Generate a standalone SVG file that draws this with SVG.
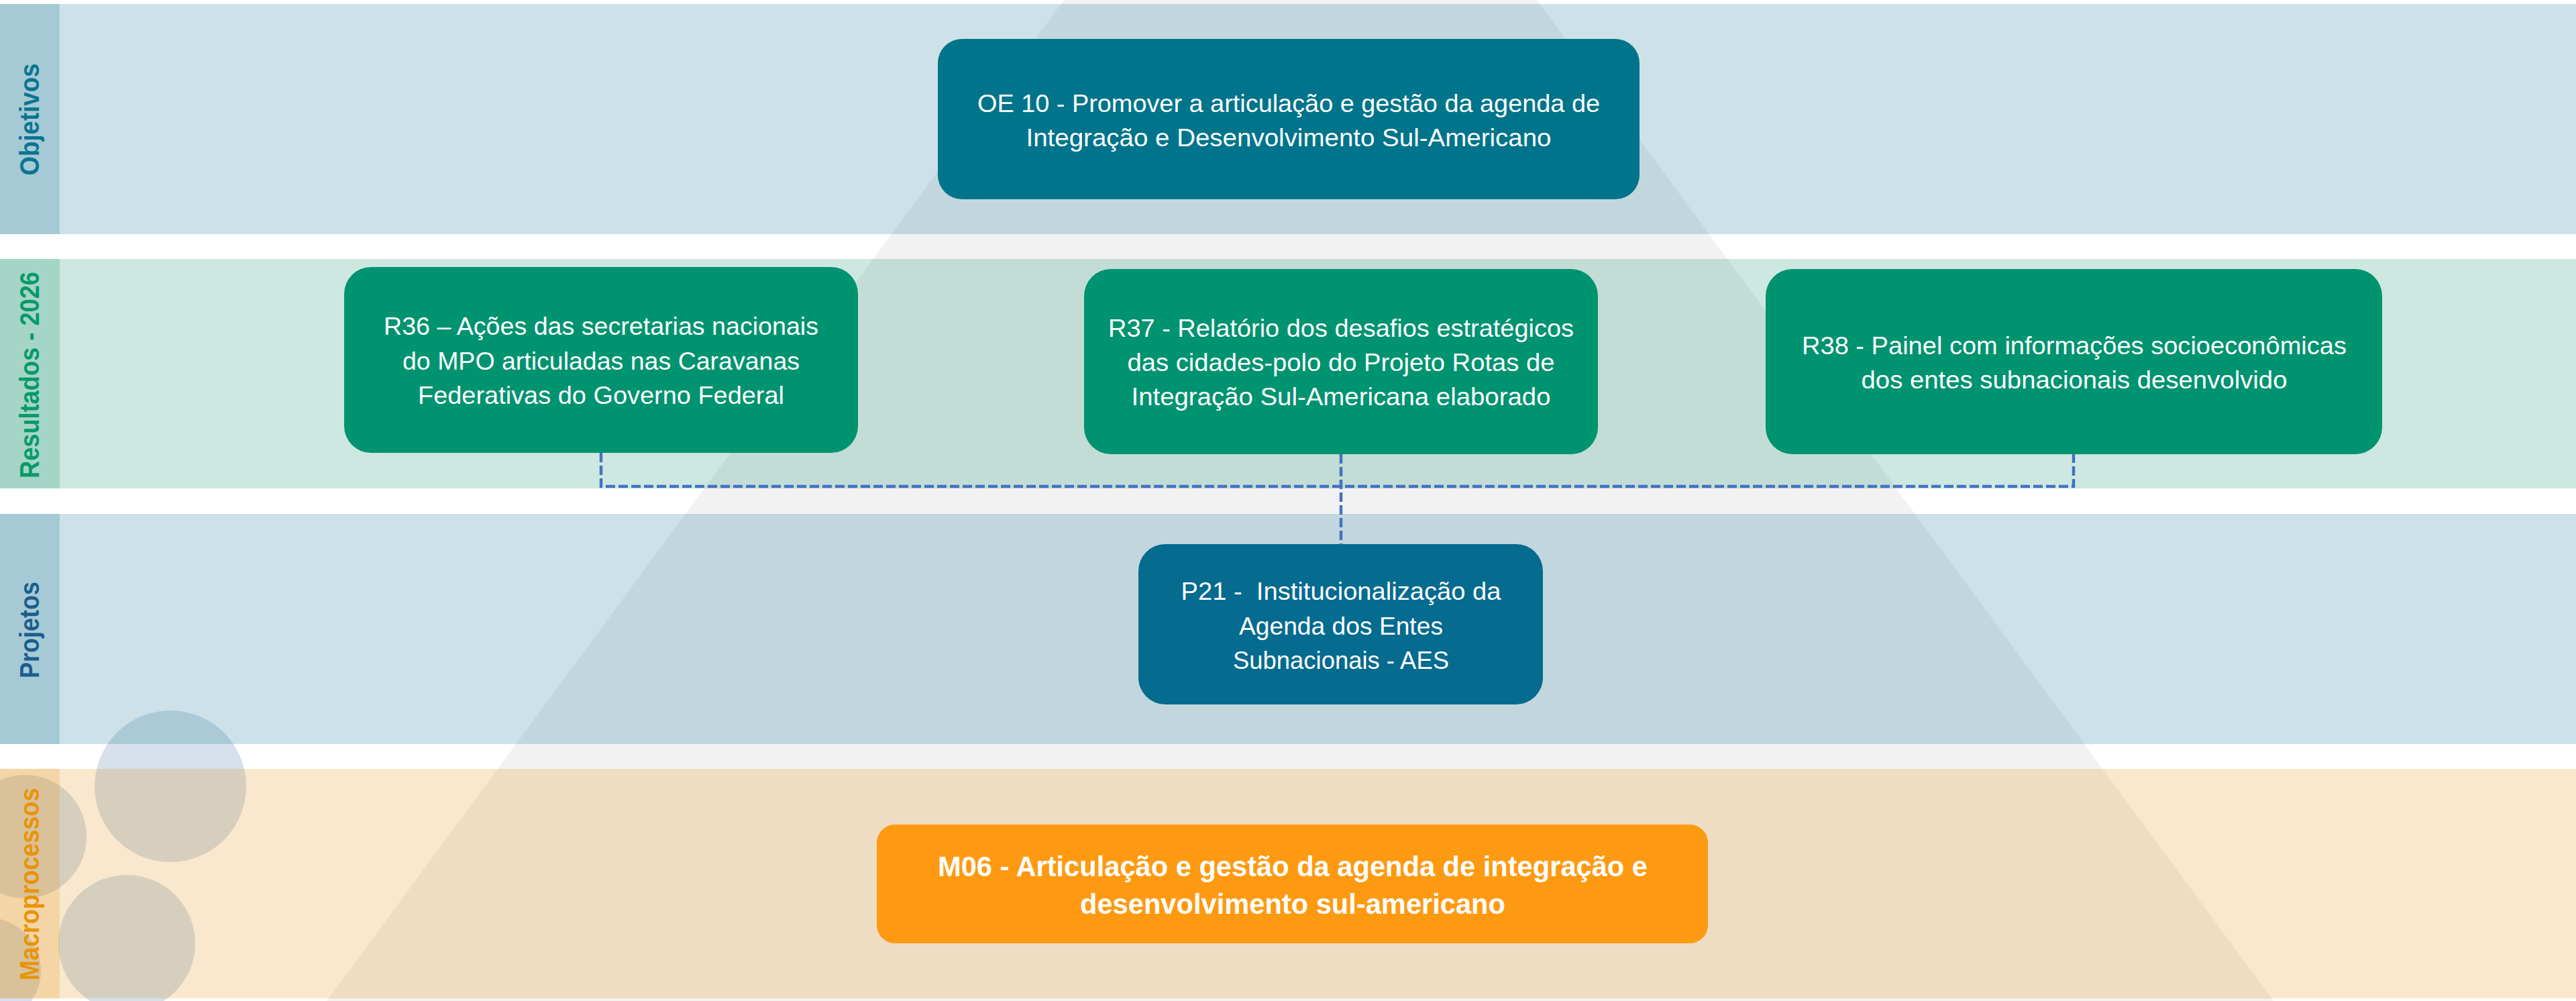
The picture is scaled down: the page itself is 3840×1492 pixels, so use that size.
<svg xmlns="http://www.w3.org/2000/svg" width="3840" height="1492" viewBox="0 0 3840 1492">
  <style>
    .bandB { fill: rgb(5,110,140); fill-opacity: 0.2; }
    .bandG { fill: rgb(5,140,100); fill-opacity: 0.2; }
    .bandO { fill: rgb(225,140,10); fill-opacity: 0.2; }
    .circ { fill: #d5e0ea; }
    .lbl { font-family: "Liberation Sans", Arial, sans-serif; font-weight: bold; font-size: 40px; text-anchor: middle; }
    .t { font-family: "Liberation Sans", Arial, sans-serif; font-size: 37px; fill: #ffffff; text-anchor: middle; }
    .tb { font-family: "Liberation Sans", Arial, sans-serif; font-size: 42px; font-weight: bold; fill: #ffffff; text-anchor: middle; }
    .conn { fill: none; stroke: #4472c4; stroke-width: 4.5; stroke-dasharray: 14 5; }
  </style>
  <rect x="0" y="0" width="3840" height="1492" fill="#ffffff"/>
  <!-- background pyramid -->
  <polygon points="1586,0 2291,0 3389,1492 487,1492" fill="#f2f2f2"/>
  <!-- decorative circles -->
  <circle class="circ" cx="254" cy="1172" r="113"/>
  <circle class="circ" cx="37" cy="1247" r="92"/>
  <circle class="circ" cx="189" cy="1406" r="102"/>
  <circle class="circ" cx="-18" cy="1447" r="79"/>
  <!-- bands -->
  <g id="band-objetivos">
    <rect class="bandB" x="0" y="6" width="3840" height="343"/>
    <rect class="bandB" x="0" y="6" width="89" height="343"/>
    <text class="lbl" fill="#0b7590" textLength="167" lengthAdjust="spacingAndGlyphs" transform="translate(58,178) rotate(-90)">Objetivos</text>
  </g>
  <g id="band-resultados">
    <rect class="bandG" x="0" y="386" width="3840" height="342"/>
    <rect class="bandG" x="0" y="386" width="89" height="342"/>
    <text class="lbl" fill="#079a6c" textLength="308" lengthAdjust="spacingAndGlyphs" transform="translate(58,559) rotate(-90)">Resultados - 2026</text>
  </g>
  <g id="band-projetos">
    <rect class="bandB" x="0" y="766" width="3840" height="343"/>
    <rect class="bandB" x="0" y="766" width="89" height="343"/>
    <text class="lbl" fill="#1a5e8e" textLength="144" lengthAdjust="spacingAndGlyphs" transform="translate(58,939) rotate(-90)">Projetos</text>
  </g>
  <g id="band-macro">
    <rect class="bandO" x="0" y="1146" width="3840" height="342"/>
    <rect class="bandO" x="0" y="1146" width="89" height="342"/>
    <text class="lbl" fill="#e8940a" textLength="287" lengthAdjust="spacingAndGlyphs" transform="translate(58,1318) rotate(-90)">Macroprocessos</text>
  </g>
  <!-- connectors -->
  <g id="connectors">
    <path class="conn" d="M896,675 V725 H3091 V677"/>
    <path class="conn" d="M1999,677 V812"/>
  </g>
  <!-- nodes -->
  <g id="oe10">
    <rect x="1398" y="58" width="1046" height="239" rx="36" ry="36" fill="#00748b"/>
    <text class="t" x="1921" y="167" textLength="928" lengthAdjust="spacingAndGlyphs">OE 10 - Promover a articulação e gestão da agenda de</text>
    <text class="t" x="1921" y="218" textLength="783" lengthAdjust="spacingAndGlyphs">Integração e Desenvolvimento Sul-Americano</text>
  </g>
  <g id="r36">
    <rect x="513" y="398" width="766" height="277" rx="40" ry="40" fill="#009370"/>
    <text class="t" x="896" y="499" textLength="648" lengthAdjust="spacingAndGlyphs">R36 – Ações das secretarias nacionais</text>
    <text class="t" x="896" y="551" textLength="592" lengthAdjust="spacingAndGlyphs">do MPO articuladas nas Caravanas</text>
    <text class="t" x="896" y="602" textLength="546" lengthAdjust="spacingAndGlyphs">Federativas do Governo Federal</text>
  </g>
  <g id="r37">
    <rect x="1616" y="401" width="766" height="276" rx="40" ry="40" fill="#009370"/>
    <text class="t" x="1999" y="502" textLength="694" lengthAdjust="spacingAndGlyphs">R37 - Relatório dos desafios estratégicos</text>
    <text class="t" x="1999" y="553" textLength="637" lengthAdjust="spacingAndGlyphs">das cidades-polo do Projeto Rotas de</text>
    <text class="t" x="1999" y="604" textLength="625" lengthAdjust="spacingAndGlyphs">Integração Sul-Americana elaborado</text>
  </g>
  <g id="r38">
    <rect x="2632" y="401" width="919" height="276" rx="40" ry="40" fill="#009370"/>
    <text class="t" x="3092" y="528" textLength="812" lengthAdjust="spacingAndGlyphs">R38 - Painel com informações socioeconômicas</text>
    <text class="t" x="3092" y="579" textLength="635" lengthAdjust="spacingAndGlyphs">dos entes subnacionais desenvolvido</text>
  </g>
  <g id="p21">
    <rect x="1697" y="811" width="603" height="239" rx="40" ry="40" fill="#056b8f"/>
    <text class="t" x="1999" y="894" textLength="477" lengthAdjust="spacingAndGlyphs" xml:space="preserve">P21 -  Institucionalização da</text>
    <text class="t" x="1999" y="946" textLength="304" lengthAdjust="spacingAndGlyphs">Agenda dos Entes</text>
    <text class="t" x="1999" y="997" textLength="322" lengthAdjust="spacingAndGlyphs">Subnacionais - AES</text>
  </g>
  <g id="m06">
    <rect x="1307" y="1229" width="1239" height="177" rx="27" ry="27" fill="#fe9a12"/>
    <text class="tb" x="1927" y="1306" textLength="1058" lengthAdjust="spacingAndGlyphs">M06 - Articulação e gestão da agenda de integração e</text>
    <text class="tb" x="1927" y="1362" textLength="634" lengthAdjust="spacingAndGlyphs">desenvolvimento sul-americano</text>
  </g>
</svg>
